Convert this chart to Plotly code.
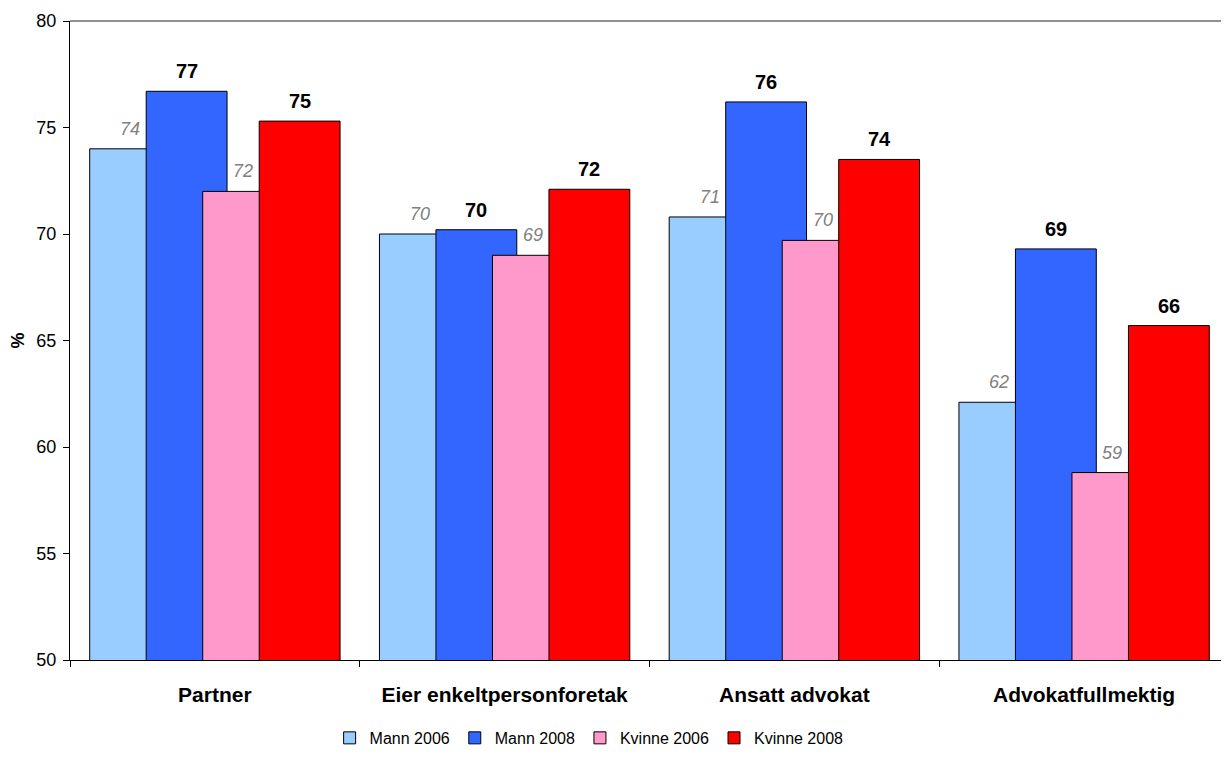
import plotly.graph_objects as go

categories = ["Partner", "Eier enkeltpersonforetak", "Ansatt advokat", "Advokatfullmektig"]
series_names = ["Mann 2006", "Mann 2008", "Kvinne 2006", "Kvinne 2008"]
mann_2006 = [74.0, 70.0, 70.8, 62.1]
mann_2008 = [76.7, 70.2, 76.2, 69.3]
kvinne_2006 = [72.0, 69.0, 69.7, 58.8]
kvinne_2008 = [75.3, 72.1, 73.5, 65.7]
y_ticks = [50, 55, 60, 65, 70, 75, 80]

colors = ["#99CCFF", "#3366FF", "#FF99CC", "#FF0000"]
values = [mann_2006, mann_2008, kvinne_2006, kvinne_2008]
highlight = [False, True, False, True]

FONT = "Arial, Liberation Sans, sans-serif"
BAR_W = 0.279
STEP = 0.195
START = -(3 * STEP + BAR_W) / 2

fig = go.Figure()
annotations = []
for i, (name, vals, col, hl) in enumerate(zip(series_names, values, colors, highlight)):
    off = START + i * STEP
    fig.add_trace(go.Bar(
        x=categories, y=vals, name=name,
        marker=dict(color=col, line=dict(color="#000000", width=1)),
        width=BAR_W, offset=off,
    ))
    for j, v in enumerate(vals):
        annotations.append(dict(
            x=j + off + BAR_W / 2, y=v, xref="x", yref="y",
            text=f"{v:.0f}", showarrow=False, yanchor="bottom",
            yshift=7 if hl else 8,
            font=dict(family=FONT, size=20 if hl else 18,
                      color="#000000" if hl else "#808080",
                      weight="bold" if hl else "normal",
                      style="normal" if hl else "italic"),
        ))

fig.update_layout(
    width=1221, height=761,
    margin=dict(l=62, r=0, t=13, b=109),
    barmode="overlay",
    paper_bgcolor="white", plot_bgcolor="white",
    font=dict(family=FONT, color="#000000"),
    annotations=annotations,
    showlegend=True,
    legend=dict(orientation="h", x=0.224, xanchor="left", y=-0.122, yanchor="middle",
                font=dict(size=16, family=FONT), traceorder="normal"),
    shapes=[dict(type="line", xref="paper", yref="paper", x0=0, x1=1, y0=1, y1=1,
                 line=dict(color="#909090", width=2))],
)
fig.update_yaxes(
    range=[50, 80], tickvals=y_ticks, ticks="outside", ticklen=6, tickcolor="#000000",
    showline=True, linecolor="#000000", linewidth=1, showgrid=False, zeroline=False,
    tickfont=dict(size=18, family=FONT), ticklabelstandoff=3,
    title=dict(text="<b>%</b>", font=dict(size=18, family=FONT), standoff=10),
)
fig.update_xaxes(
    ticks="outside", tickson="boundaries", ticklen=6, tickcolor="#000000",
    showline=True, linecolor="#000000", linewidth=1, showgrid=False,
    tickfont=dict(size=21, family=FONT, weight="bold"), ticklabelstandoff=16,
)

fig.write_html("out.html")
